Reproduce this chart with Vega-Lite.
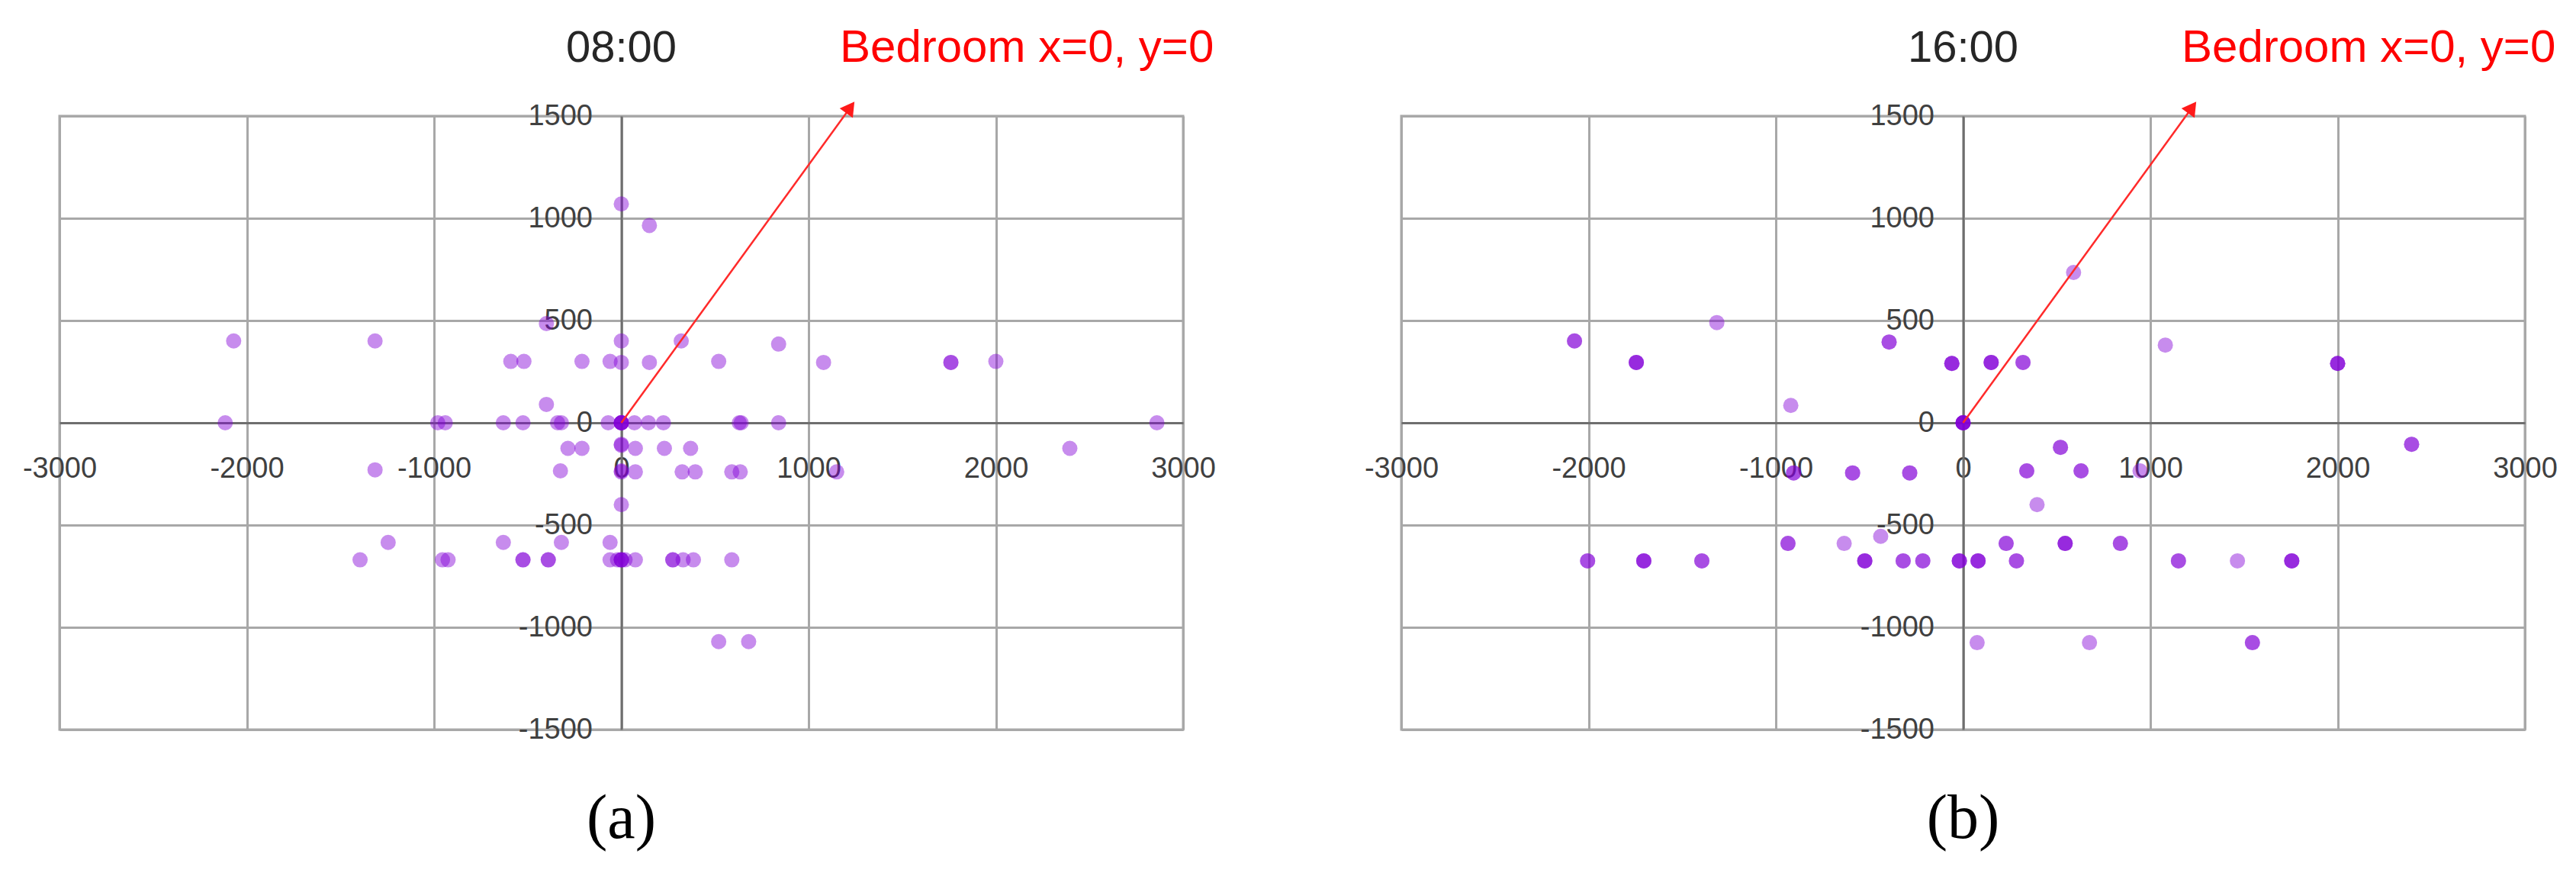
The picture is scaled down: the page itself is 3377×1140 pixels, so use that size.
{
  "$schema": "https://vega.github.io/schema/vega-lite/v6.json",
  "padding": {"left": 27, "top": 31, "right": 5, "bottom": 5},
  "background": "white",
  "bounds": "flush",
  "spacing": 286,
  "datasets": {
    "t0800": [
      {"x":-2070,"y":400},{"x":-1315,"y":400},{"x":0,"y":400},{"x":320,"y":400},{"x":840,"y":385},
      {"x":-400,"y":485},
      {"x":-590,"y":300},{"x":-520,"y":300},{"x":-210,"y":300},{"x":-60,"y":300},{"x":0,"y":295},{"x":150,"y":295},{"x":520,"y":300},{"x":1080,"y":295},{"x":1760,"y":295},{"x":1760,"y":295},{"x":2000,"y":300},
      {"x":0,"y":1070},{"x":150,"y":965},
      {"x":-400,"y":90},
      {"x":-2115,"y":0},{"x":-980,"y":0},{"x":-940,"y":0},{"x":-630,"y":0},{"x":-525,"y":0},{"x":-340,"y":0},{"x":-320,"y":0},{"x":-70,"y":0},{"x":0,"y":0},{"x":0,"y":0},{"x":0,"y":0},{"x":0,"y":0},{"x":0,"y":0},{"x":70,"y":0},{"x":145,"y":0},{"x":225,"y":0},{"x":630,"y":0},{"x":640,"y":0},{"x":840,"y":0},{"x":2860,"y":0},
      {"x":-285,"y":-125},{"x":-210,"y":-125},{"x":0,"y":-105},{"x":0,"y":-110},{"x":75,"y":-125},{"x":230,"y":-125},{"x":370,"y":-125},{"x":2395,"y":-125},
      {"x":-1315,"y":-230},{"x":-325,"y":-235},{"x":0,"y":-235},{"x":0,"y":-240},{"x":75,"y":-240},{"x":325,"y":-240},{"x":395,"y":-240},{"x":590,"y":-240},{"x":635,"y":-240},{"x":1150,"y":-240},
      {"x":0,"y":-400},
      {"x":-1245,"y":-585},{"x":-630,"y":-585},{"x":-320,"y":-585},{"x":-60,"y":-585},
      {"x":-1395,"y":-670},{"x":-955,"y":-670},{"x":-925,"y":-670},{"x":-525,"y":-670},{"x":-525,"y":-670},{"x":-390,"y":-670},{"x":-390,"y":-670},{"x":-60,"y":-670},{"x":-20,"y":-670},{"x":0,"y":-670},{"x":0,"y":-670},{"x":0,"y":-670},{"x":20,"y":-670},{"x":75,"y":-670},{"x":275,"y":-670},{"x":275,"y":-670},{"x":330,"y":-670},{"x":385,"y":-670},{"x":590,"y":-670},
      {"x":520,"y":-1070},{"x":680,"y":-1070}
    ],
    "t1600": [
      {"x":-2075,"y":400},{"x":-2075,"y":400},
      {"x":-1745,"y":295},{"x":-1745,"y":295},{"x":-1745,"y":295},
      {"x":-1315,"y":490},
      {"x":-395,"y":395},{"x":-395,"y":395},
      {"x":-60,"y":290},{"x":-60,"y":290},{"x":-60,"y":290},
      {"x":-920,"y":85},
      {"x":0,"y":0},{"x":0,"y":0},{"x":0,"y":0},{"x":0,"y":0},{"x":0,"y":0},
      {"x":-905,"y":-245},{"x":-905,"y":-245},
      {"x":-590,"y":-245},{"x":-590,"y":-245},
      {"x":-285,"y":-245},{"x":-285,"y":-245},
      {"x":-935,"y":-590},{"x":-935,"y":-590},
      {"x":-635,"y":-590},
      {"x":-440,"y":-555},
      {"x":-2005,"y":-675},{"x":-2005,"y":-675},
      {"x":-1705,"y":-675},{"x":-1705,"y":-675},{"x":-1705,"y":-675},
      {"x":-1395,"y":-675},{"x":-1395,"y":-675},
      {"x":-525,"y":-675},{"x":-525,"y":-675},{"x":-525,"y":-675},
      {"x":-320,"y":-675},{"x":-320,"y":-675},
      {"x":-215,"y":-675},{"x":-215,"y":-675},
      {"x":-20,"y":-675},{"x":-20,"y":-675},{"x":-20,"y":-675},
      {"x":80,"y":-675},{"x":80,"y":-675},{"x":80,"y":-675},
      {"x":75,"y":-1075},
      {"x":150,"y":295},{"x":150,"y":295},{"x":150,"y":295},
      {"x":320,"y":295},{"x":320,"y":295},
      {"x":590,"y":735},
      {"x":1080,"y":380},
      {"x":2000,"y":290},{"x":2000,"y":290},{"x":2000,"y":290},
      {"x":2395,"y":-105},{"x":2395,"y":-105},
      {"x":520,"y":-120},{"x":520,"y":-120},
      {"x":340,"y":-235},{"x":340,"y":-235},
      {"x":630,"y":-235},{"x":630,"y":-235},
      {"x":945,"y":-235},
      {"x":395,"y":-400},
      {"x":230,"y":-590},{"x":230,"y":-590},
      {"x":545,"y":-590},{"x":545,"y":-590},{"x":545,"y":-590},
      {"x":840,"y":-590},{"x":840,"y":-590},
      {"x":285,"y":-675},{"x":285,"y":-675},
      {"x":1150,"y":-675},{"x":1150,"y":-675},
      {"x":1465,"y":-675},
      {"x":1755,"y":-675},{"x":1755,"y":-675},{"x":1755,"y":-675},
      {"x":675,"y":-1075},
      {"x":1545,"y":-1075},{"x":1545,"y":-1075}
    ],
    "arrow": [{"x":0,"y":0},{"x":1232,"y":1553}],
    "head": [{"x":1223,"y":1542}],
    "labA": [{"time":"08:00","note":"Bedroom x=0, y=0","panel":"(a)"}],
    "labB": [{"time":"16:00","note":"Bedroom x=0, y=0","panel":"(b)"}]
  },
  "hconcat": [
    {
      "width": 1473, "height": 804,
      "layer": [
        {
          "data": {"name": "t0800"},
          "mark": {"type": "circle", "size": 400, "color": "#8200d7", "opacity": 0.45},
          "encoding": {
            "x": {"field": "x", "type": "quantitative", "scale": {"domain": [-3000, 3000], "nice": false, "zero": false},
                  "axis": {"title": null, "values": [-3000,-2000,-1000,0,1000,2000,3000], "offset": -402, "labelPadding": 41, "labelExpr": "'' + datum.value"}},
            "y": {"field": "y", "type": "quantitative", "scale": {"domain": [-1500, 1500], "nice": false, "zero": false},
                  "axis": {"title": null, "values": [-1500,-1000,-500,0,500,1000,1500], "offset": -736.5, "labelPadding": 38, "labelExpr": "'' + datum.value"}}
          }
        },
        {
          "data": {"name": "arrow"},
          "mark": {"type": "line", "color": "#ff2a2a", "strokeWidth": 2.5, "clip": false},
          "encoding": {"x": {"field": "x", "type": "quantitative"}, "y": {"field": "y", "type": "quantitative"}}
        },
        {
          "data": {"name": "head"},
          "mark": {"type": "point", "shape": "triangle-up", "filled": true, "color": "#ff1a1a", "opacity": 1, "size": 450, "angle": 36, "clip": false},
          "encoding": {"x": {"field": "x", "type": "quantitative"}, "y": {"field": "y", "type": "quantitative"}}
        },
        {
          "data": {"name": "labA"},
          "mark": {"type": "text", "font": "Liberation Sans", "fontSize": 58, "color": "#262626", "align": "center", "baseline": "alphabetic"},
          "encoding": {"x": {"datum": 0, "type": "quantitative"}, "y": {"datum": 1765, "type": "quantitative"}, "text": {"field": "time"}}
        },
        {
          "data": {"name": "labA"},
          "mark": {"type": "text", "font": "Liberation Sans", "fontSize": 60, "color": "#ff0000", "align": "left", "baseline": "alphabetic"},
          "encoding": {"x": {"datum": 1167, "type": "quantitative"}, "y": {"datum": 1765, "type": "quantitative"}, "text": {"field": "note"}}
        },
        {
          "data": {"name": "labA"},
          "mark": {"type": "text", "font": "Liberation Serif", "fontSize": 82, "color": "#000000", "align": "center", "baseline": "alphabetic"},
          "encoding": {"x": {"datum": 0, "type": "quantitative"}, "y": {"datum": -2030, "type": "quantitative"}, "text": {"field": "panel"}}
        }
      ]
    },
    {
      "width": 1473, "height": 804,
      "layer": [
        {
          "data": {"name": "t1600"},
          "mark": {"type": "circle", "size": 400, "color": "#8200d7", "opacity": 0.45},
          "encoding": {
            "x": {"field": "x", "type": "quantitative", "scale": {"domain": [-3000, 3000], "nice": false, "zero": false},
                  "axis": {"title": null, "values": [-3000,-2000,-1000,0,1000,2000,3000], "offset": -402, "labelPadding": 41, "labelExpr": "'' + datum.value"}},
            "y": {"field": "y", "type": "quantitative", "scale": {"domain": [-1500, 1500], "nice": false, "zero": false},
                  "axis": {"title": null, "values": [-1500,-1000,-500,0,500,1000,1500], "offset": -736.5, "labelPadding": 38, "labelExpr": "'' + datum.value"}}
          }
        },
        {
          "data": {"name": "arrow"},
          "mark": {"type": "line", "color": "#ff2a2a", "strokeWidth": 2.5, "clip": false},
          "encoding": {"x": {"field": "x", "type": "quantitative"}, "y": {"field": "y", "type": "quantitative"}}
        },
        {
          "data": {"name": "head"},
          "mark": {"type": "point", "shape": "triangle-up", "filled": true, "color": "#ff1a1a", "opacity": 1, "size": 450, "angle": 36, "clip": false},
          "encoding": {"x": {"field": "x", "type": "quantitative"}, "y": {"field": "y", "type": "quantitative"}}
        },
        {
          "data": {"name": "labB"},
          "mark": {"type": "text", "font": "Liberation Sans", "fontSize": 58, "color": "#262626", "align": "center", "baseline": "alphabetic"},
          "encoding": {"x": {"datum": 0, "type": "quantitative"}, "y": {"datum": 1765, "type": "quantitative"}, "text": {"field": "time"}}
        },
        {
          "data": {"name": "labB"},
          "mark": {"type": "text", "font": "Liberation Sans", "fontSize": 60, "color": "#ff0000", "align": "left", "baseline": "alphabetic"},
          "encoding": {"x": {"datum": 1167, "type": "quantitative"}, "y": {"datum": 1765, "type": "quantitative"}, "text": {"field": "note"}}
        },
        {
          "data": {"name": "labB"},
          "mark": {"type": "text", "font": "Liberation Serif", "fontSize": 82, "color": "#000000", "align": "center", "baseline": "alphabetic"},
          "encoding": {"x": {"datum": 0, "type": "quantitative"}, "y": {"datum": -2030, "type": "quantitative"}, "text": {"field": "panel"}}
        }
      ]
    }
  ],
  "config": {
    "view": {"stroke": "#a8a8a8", "strokeWidth": 3},
    "axis": {
      "grid": true, "gridColor": "#a8a8a8", "gridWidth": 3,
      "domain": true, "domainColor": "#6e6e6e", "domainWidth": 3,
      "ticks": false, "tickSize": 0,
      "labelFont": "Liberation Sans", "labelFontSize": 38, "labelColor": "#404040",
      "labelOverlap": false, "labelFlush": false, "labelBound": false
    }
  }
}
